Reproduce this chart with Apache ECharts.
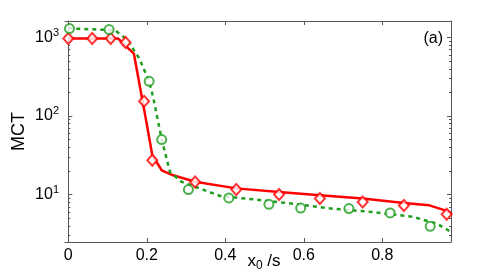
<!DOCTYPE html>
<html><head><meta charset="utf-8">
<script src="https://cdn.jsdelivr.net/npm/echarts@6/dist/echarts.min.js"></script>
<style>html,body{margin:0;padding:0;background:#fff}#c{width:498px;height:277px}</style>
</head><body><div id="c"></div>
<script>
// Red solid fitted curve
const redCurveX = [0, 0.127, 0.167, 0.2005, 0.214, 0.238, 0.267, 0.323, 0.428, 0.537, 0.641, 0.750, 0.855, 0.92, 0.964, 0.975];
const redCurveY = [971, 971, 626, 76.4, 31.7, 20.4, 17.6, 14.6, 12.0, 10.8, 9.8, 8.9, 7.8, 7.3, 6.2, 5.8];
// Green dotted fitted curve
const greenCurveX = [0, 0.119, 0.149, 0.181, 0.206, 0.217, 0.229, 0.238, 0.259, 0.289, 0.336, 0.387, 0.471, 0.548, 0.675, 0.777, 0.879, 0.939, 0.975];
const greenCurveY = [1310, 1239, 951, 540, 277, 167, 84, 50.6, 19.4, 14.5, 11.9, 9.6, 8.7, 7.9, 6.6, 6.0, 5.19, 4.27, 3.34];
// Red diamond markers
const redPtsX = [0, 0.061, 0.108, 0.146, 0.193, 0.214, 0.323, 0.428, 0.537, 0.641, 0.750, 0.855, 0.964];
const redPtsY = [971, 971, 971, 863, 154, 27.4, 14.5, 11.6, 10.0, 8.9, 8.05, 7.25, 5.61];
// Green circle markers
const greenPtsX = [0.003, 0.104, 0.206, 0.238, 0.306, 0.409, 0.511, 0.592, 0.715, 0.820, 0.922];
const greenPtsY = [1302, 1265, 277, 50.2, 11.6, 9.06, 7.52, 6.74, 6.63, 5.84, 3.94];
// Ticks
const xTicks = [0, 0.2, 0.4, 0.6, 0.8];
const yMajor = [10, 100, 1000];
const yMinor = [3, 4, 5, 6, 7, 8, 9, 20, 30, 40, 50, 60, 70, 80, 90, 200, 300, 400, 500, 600, 700, 800, 900];

const zip = (xs, ys) => xs.map((x, i) => [x, ys[i]]);
const FONT = "'Liberation Sans', Arial, Helvetica, sans-serif";
const RED = '#ff0000', GREEN = '#1f9e1f', AX = '#555555';
const XMIN = -0.0084, XMAX = 0.975, YMIN = 2.49, YMAX = 1626;

function yAxisDef(pos, ticks, len, showLine, showLabel, extra) {
  return Object.assign({
    type: 'log', logBase: 10, min: YMIN, max: YMAX, position: pos,
    axisLine: { show: showLine, lineStyle: { color: AX, width: 1 } },
    axisTick: { show: true, inside: true, length: len, customValues: ticks, lineStyle: { color: AX } },
    axisLabel: showLabel ? {
      customValues: yMajor, color: '#000', fontFamily: FONT, margin: 6,
      formatter: v => '{b|10}{s|' + Math.round(Math.log10(v)) + '}',
      rich: { b: { fontSize: 16, fontFamily: FONT, color: '#000' },
              s: { fontSize: 11, fontFamily: FONT, color: '#000', padding: [0, 0, 10, 0] } }
    } : { show: false },
    splitLine: { show: false }, minorTick: { show: false }
  }, extra || {});
}
function xAxisDef(pos, showLabel, extra) {
  return Object.assign({
    type: 'value', min: XMIN, max: XMAX, position: pos,
    axisLine: { show: true, onZero: false, lineStyle: { color: AX, width: 1 } },
    axisTick: { show: true, inside: true, length: 4, customValues: xTicks, lineStyle: { color: AX } },
    axisLabel: showLabel ? { customValues: xTicks, fontSize: 16, fontFamily: FONT, color: '#000', margin: 6,
      formatter: v => String(Math.round(v * 10) / 10) } : { show: false },
    splitLine: { show: false }
  }, extra || {});
}

const chart = echarts.init(document.getElementById('c'), null, { renderer: 'canvas' });
chart.setOption({
  animation: false,
  backgroundColor: '#fff',
  title: { text: '(a)', right: 50, top: 26, textStyle: { fontSize: 16, fontWeight: 'normal', fontFamily: FONT, color: '#000' } },
  grid: { left: 65, right: 47, top: 21, bottom: 35, containLabel: false, outerBoundsMode: 'none' },
  xAxis: [
    xAxisDef('bottom', true, {
      name: 'x{sub|0} /s', nameLocation: 'middle', nameGap: 9, nameMoveOverlap: false,
      nameTextStyle: { fontSize: 17, fontFamily: FONT, color: '#000', padding: [0, 0, 0, 12],
        rich: { sub: { fontSize: 12, fontFamily: FONT, color: '#000', padding: [9, 0, 0, 0] } } }
    }),
    xAxisDef('top', false)
  ],
  yAxis: [
    yAxisDef('left', yMajor, 4, true, true, {
      name: 'MCT', nameLocation: 'middle', nameGap: 37, nameMoveOverlap: false,
      nameTextStyle: { fontSize: 18, fontFamily: FONT, color: '#000' }
    }),
    yAxisDef('left', yMinor, 2, false, false),
    yAxisDef('right', yMajor, 4, true, false),
    yAxisDef('right', yMinor, 2, false, false)
  ],
  series: [
    { type: 'line', data: zip(redCurveX, redCurveY), showSymbol: false, symbol: 'none',
      lineStyle: { color: RED, width: 2.5 }, z: 2 },
    { type: 'line', data: zip(greenCurveX, greenCurveY), showSymbol: false, symbol: 'none',
      lineStyle: { color: GREEN, width: 2.5, type: [4, 4] }, z: 2 },
    { type: 'scatter', data: zip(redPtsX, redPtsY), symbol: 'diamond', symbolSize: [10, 11],
      itemStyle: { color: '#fff', borderColor: RED, borderWidth: 2 }, z: 3 },
    { type: 'scatter', data: zip(greenPtsX, greenPtsY), symbol: 'circle', symbolSize: 9,
      itemStyle: { color: '#fff', borderColor: GREEN, borderWidth: 2 }, z: 3 }
  ]
});
</script></body></html>
